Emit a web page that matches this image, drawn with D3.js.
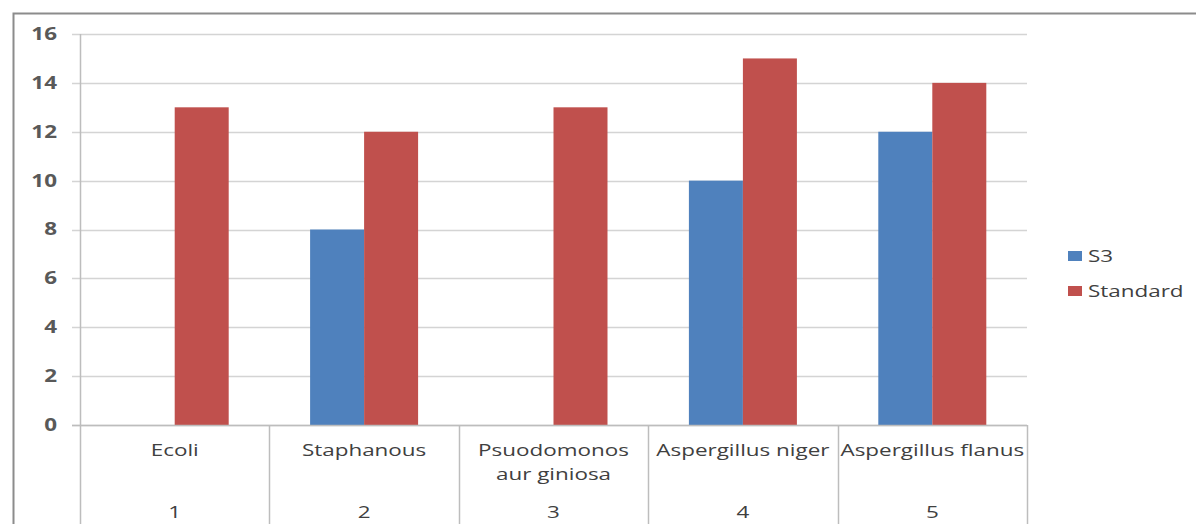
<!DOCTYPE html>
<html>
<head>
<meta charset="utf-8">
<script src="https://cdn.jsdelivr.net/npm/d3@7"></script>
<style>
  html, body { margin: 0; padding: 0; background: #fff; }
  svg { display: block; }
  text { font-family: "Open Sans", "Liberation Sans", sans-serif; }
</style>
</head>
<body>
<script>
// Zone of inhibition per organism: S3 sample vs standard
const categories = [["Ecoli"], ["Staphanous"], ["Psuodomonos", "aur giniosa"], ["Aspergillus niger"], ["Aspergillus flanus"]];
const indexLabels = ["1", "2", "3", "4", "5"];
const seriesNames = ["S3", "Standard"];
const s3Values = [0, 8, 0, 10, 12];
const standardValues = [13, 12, 13, 15, 14];
const yTicks = [0, 2, 4, 6, 8, 10, 12, 14, 16];
const colors = ["#4F81BD", "#C0504D"];

const W = 1197, H = 524;
const plotLeft = 80, plotRight = 1027, plotTop = 34, plotBottom = 425;
const stretch = 1.32;   // wide lettering of the chart's labels
const fs = 17;

const svg = d3.select("body").append("svg").attr("width", W).attr("height", H);

// outer chart frame
svg.append("path")
  .attr("d", `M13.5,${H} V13.5 H1196`)
  .attr("fill", "none").attr("stroke", "#8c8c8c").attr("stroke-width", 2);

const y = d3.scaleLinear().domain([0, 16]).range([plotBottom, plotTop]);
const x = d3.scaleBand().domain(d3.range(categories.length)).range([plotLeft, plotRight]).padding(0);
const barW = 54;
const x1 = d3.scaleBand().domain(seriesNames)
  .range([x.bandwidth() / 2 - barW, x.bandwidth() / 2 + barW]).padding(0);

// horizontal gridlines with short ticks left of the axis
svg.append("g").selectAll("line").data(yTicks).join("line")
  .attr("x1", plotLeft - 8).attr("x2", plotRight)
  .attr("y1", d => Math.round(y(d)) + 0.5).attr("y2", d => Math.round(y(d)) + 0.5)
  .attr("stroke", "#d4d4d4").attr("stroke-width", 1.5);

// y tick labels
svg.append("g").selectAll("text").data(yTicks).join("text")
  .attr("transform", d => `translate(57,${y(d)}) scale(${stretch},1)`)
  .attr("dy", "0.35em").attr("text-anchor", "end")
  .attr("font-size", fs).attr("font-weight", "bold").attr("fill", "#595959")
  .text(d => d);

// bars
const data = categories.map((c, i) => ({ i, vals: [s3Values[i], standardValues[i]] }));
const groups = svg.append("g").selectAll("g").data(data).join("g")
  .attr("transform", d => `translate(${x(d.i)},0)`);
groups.selectAll("rect").data(d => d.vals.map((v, k) => ({ k, v }))).join("rect")
  .attr("x", d => x1(seriesNames[d.k]))
  .attr("width", x1.bandwidth())
  .attr("y", d => y(d.v))
  .attr("height", d => y(0) - y(d.v))
  .attr("fill", d => colors[d.k]);

// y axis line and category dividers running down through the label rows
const dividers = d3.range(categories.length + 1).map(i => i < categories.length ? x(i) : plotRight);
svg.append("g").selectAll("line").data(dividers).join("line")
  .attr("x1", d => Math.round(d) + 0.5).attr("x2", d => Math.round(d) + 0.5)
  .attr("y1", (d, i) => i === 0 ? plotTop : plotBottom).attr("y2", H)
  .attr("stroke", "#bdbdbd").attr("stroke-width", 1.5);

// baseline
svg.append("line")
  .attr("x1", plotLeft - 8).attr("x2", plotRight)
  .attr("y1", Math.round(y(0)) + 0.5).attr("y2", Math.round(y(0)) + 0.5)
  .attr("stroke", "#bdbdbd").attr("stroke-width", 1.5);

// category names
const catText = svg.append("g").selectAll("text").data(categories).join("text")
  .attr("transform", (d, i) => `translate(${x(i) + x.bandwidth() / 2},0) scale(${stretch},1)`)
  .attr("text-anchor", "middle").attr("font-size", fs).attr("fill", "#404040");
catText.each(function (lines) {
  const t = d3.select(this);
  lines.forEach((ln, j) => {
    t.append("tspan").attr("x", 0).attr("y", 456 + j * 24).text(ln);
  });
});

// index row
svg.append("g").selectAll("text").data(indexLabels).join("text")
  .attr("transform", (d, i) => `translate(${x(i) + x.bandwidth() / 2},518) scale(${stretch},1)`)
  .attr("text-anchor", "middle").attr("font-size", fs).attr("fill", "#404040")
  .text(d => d);

// legend
const legend = svg.append("g").selectAll("g").data(seriesNames).join("g")
  .attr("transform", (d, i) => `translate(1068,${251 + i * 35})`);
legend.append("rect").attr("width", 14).attr("height", 10).attr("fill", (d, i) => colors[i]);
legend.append("text")
  .attr("transform", `translate(20,5) scale(${stretch},1)`)
  .attr("dy", "0.35em")
  .attr("font-size", fs).attr("fill", "#404040").text(d => d);
</script>
</body>
</html>
